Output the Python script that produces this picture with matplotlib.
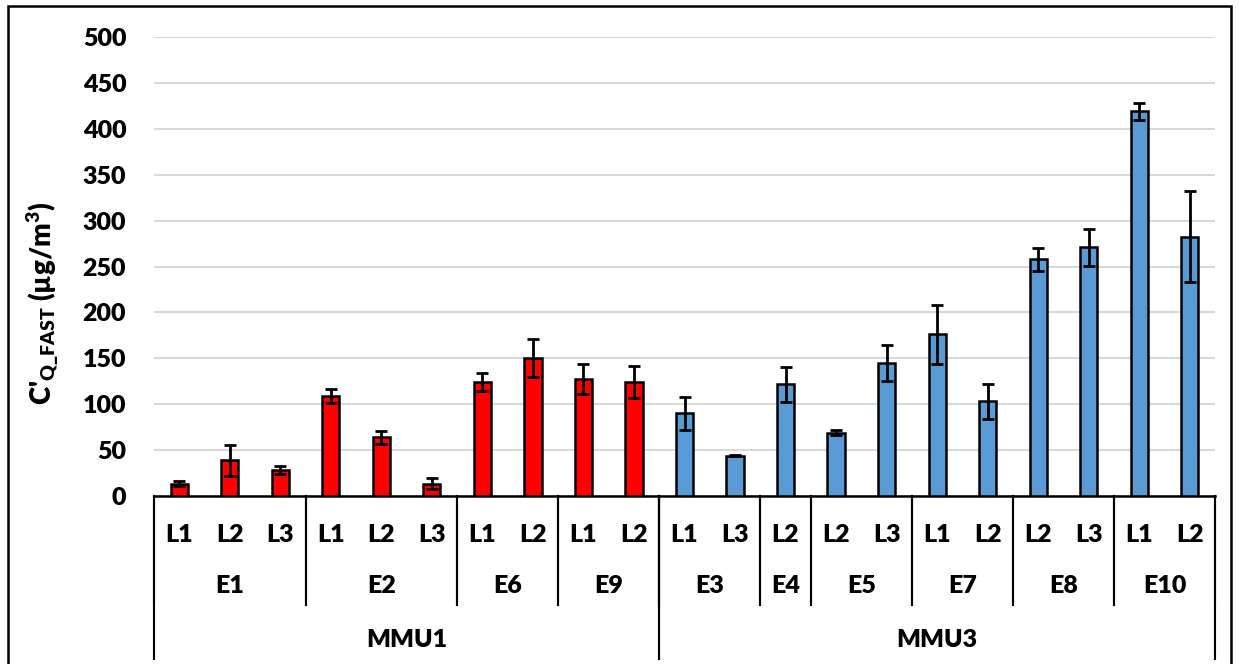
import numpy as np
import matplotlib
matplotlib.use('Agg')
import matplotlib.pyplot as plt
from matplotlib.patches import Rectangle

# concentration per unit / experiment / location
units = ['MMU1'] * 10 + ['MMU3'] * 11
experiments = ['E1', 'E1', 'E1', 'E2', 'E2', 'E2', 'E6', 'E6', 'E9', 'E9',
               'E3', 'E3', 'E4', 'E5', 'E5', 'E7', 'E7', 'E8', 'E8', 'E10', 'E10']
locations = ['L1', 'L2', 'L3', 'L1', 'L2', 'L3', 'L1', 'L2', 'L1', 'L2',
             'L1', 'L3', 'L2', 'L2', 'L3', 'L1', 'L2', 'L2', 'L3', 'L1', 'L2']
conc = [13.5, 39, 28, 109, 64, 13.5, 124, 150.5, 127.5, 124,
        90, 44, 121.5, 69, 145, 176, 103, 258, 271, 419, 282.5]
err = [2.5, 17, 4.5, 8, 7, 6, 10, 21, 16.5, 17.5,
       18, 0.7, 19, 3, 20, 32, 19, 12.5, 20, 9.5, 49.5]

colors = {'MMU1': '#ff0000', 'MMU3': '#5b9bd5'}

W = 'heavy'
plt.rcParams['font.family'] = 'Lato'
plt.rcParams['font.weight'] = W
plt.rcParams['mathtext.fontset'] = 'custom'
plt.rcParams['mathtext.rm'] = 'Lato:heavy'
plt.rcParams['mathtext.bf'] = 'Lato:heavy'
plt.rcParams['mathtext.default'] = 'bf'

FS = 18

fig = plt.figure(figsize=(12.39, 6.64), dpi=100)
ax = fig.add_axes([154 / 1239, 1 - 496 / 664, (1215 - 154) / 1239, (496 - 37) / 664])

x = np.arange(len(conc))
ax.bar(x, conc, width=0.34, color=[colors[u] for u in units],
       edgecolor='black', linewidth=1.8, zorder=3)
ax.errorbar(x, conc, yerr=err, fmt='none', ecolor='black', elinewidth=2,
            capsize=4.5, capthick=2, zorder=4)

ax.set_xlim(-0.5, len(conc) - 0.5)
ax.set_ylim(0, 500)
ax.set_yticks(np.arange(0, 501, 50))
ax.yaxis.grid(True, color='#d9d9d9', linewidth=1.5, zorder=0)
ax.tick_params(axis='y', length=0, labelsize=FS, pad=20)
for lbl in ax.get_yticklabels():
    lbl.set_fontweight(W)
ax.set_xticks([])
for s in ['left', 'right', 'top']:
    ax.spines[s].set_visible(False)
ax.spines['bottom'].set_linewidth(1.8)

ax.set_ylabel("C'$_{Q\\_FAST}$ (µg/m$^3$)", fontsize=FS + 2, fontweight=W)
ax.yaxis.set_label_coords(-0.088, 0.42)

# multi-level category axis
tr = ax.get_xaxis_transform()
row_l, row_e, row_u = -0.085, -0.196, -0.313
sep_e, sep_u = -0.237, -0.355

for i, loc in enumerate(locations):
    ax.text(i, row_l, loc, transform=tr, ha='center', va='center', fontsize=FS, fontweight=W)


def groups(labels):
    out = []
    start = 0
    for i in range(1, len(labels) + 1):
        if i == len(labels) or labels[i] != labels[start]:
            out.append((labels[start], start, i - 1))
            start = i
    return out


exp_keys = [u + e for u, e in zip(units, experiments)]
for key, a, b in groups(exp_keys):
    ax.text((a + b) / 2, row_e, experiments[a], transform=tr, ha='center', va='center',
            fontsize=FS, fontweight=W)
    ax.plot([a - 0.5, a - 0.5], [0, sep_e], transform=tr, color='black', lw=1.5, clip_on=False)
    ax.plot([b + 0.5, b + 0.5], [0, sep_e], transform=tr, color='black', lw=1.5, clip_on=False)

for u, a, b in groups(units):
    ax.text((a + b) / 2, row_u, u, transform=tr, ha='center', va='center',
            fontsize=FS, fontweight=W)
    ax.plot([a - 0.5, a - 0.5], [0, sep_u], transform=tr, color='black', lw=1.5, clip_on=False)
    ax.plot([b + 0.5, b + 0.5], [0, sep_u], transform=tr, color='black', lw=1.5, clip_on=False)

# outer frame
fig.add_artist(Rectangle((8 / 1239, -0.05), (1231 - 8) / 1239, 1.05 - 6 / 664,
                         transform=fig.transFigure, fill=False, edgecolor='black', lw=1.8))

fig.savefig('out.png', dpi=100)
